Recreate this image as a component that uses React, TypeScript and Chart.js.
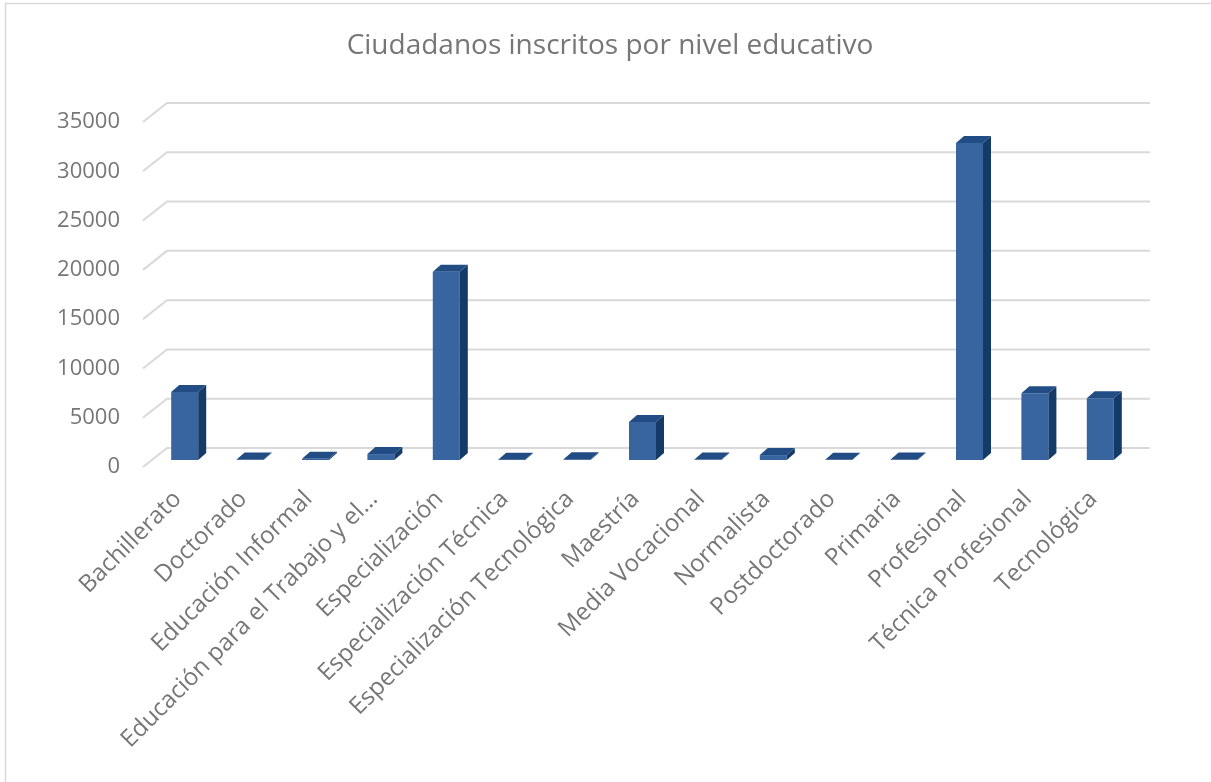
import React, { useEffect, useRef } from 'react';
import { Chart, registerables } from 'chart.js';

Chart.register(...registerables);

const chartTitle = 'Ciudadanos inscritos por nivel educativo';

const categories = [
  'Bachillerato',
  'Doctorado',
  'Educación Informal',
  'Educación para el Trabajo y el…',
  'Especialización',
  'Especialización Técnica',
  'Especialización Tecnológica',
  'Maestría',
  'Media Vocacional',
  'Normalista',
  'Postdoctorado',
  'Primaria',
  'Profesional',
  'Técnica Profesional',
  'Tecnológica',
];

const enrolled = [6900, 60, 120, 600, 19100, 30, 80, 3850, 50, 500, 20, 60, 32150, 6770, 6260];

const yMin = 0;
const yMax = 35000;
const yStep = 5000;

const FONT = '"Open Sans", "DejaVu Sans", sans-serif';
const TEXT = '#767676';
const FRONT = '#3864A0';
const TOP = '#214C84';
const SIDE = '#143B68';
const GRID = '#D9D9D9';

const threeD = {
  id: 'threeD',
  beforeDraw(chart: any) {
    const { ctx } = chart;
    ctx.save();
    ctx.strokeStyle = '#D9D9D9';
    ctx.lineWidth = 1.5;
    ctx.beginPath();
    ctx.moveTo(5.5, 1400);
    ctx.lineTo(5.5, 3.5);
    ctx.lineTo(1400, 3.5);
    ctx.stroke();
    ctx.restore();
  },
  beforeDatasetsDraw(chart: any) {
    const { ctx, chartArea } = chart;
    const y = chart.scales.y;
    ctx.save();
    ctx.strokeStyle = GRID;
    ctx.lineWidth = 2;
    y.ticks.forEach((t: any) => {
      const py = y.getPixelForValue(t.value);
      ctx.beginPath();
      ctx.moveTo(chartArea.left - 9, py + 7);
      ctx.lineTo(chartArea.left + 15, py - 12);
      ctx.lineTo(chartArea.right + 17, py - 12);
      ctx.stroke();
    });
    ctx.restore();
  },
  afterDatasetsDraw(chart: any) {
    const { ctx } = chart;
    const meta = chart.getDatasetMeta(0);
    const dx = 8;
    const dy = -7;
    ctx.save();
    meta.data.forEach((bar: any) => {
      const { x, y, base, width } = bar.getProps(['x', 'y', 'base', 'width'], true);
      const l = x - width / 2;
      const r = x + width / 2;
      ctx.fillStyle = SIDE;
      ctx.beginPath();
      ctx.moveTo(r, y);
      ctx.lineTo(r + dx, y + dy);
      ctx.lineTo(r + dx, base + dy);
      ctx.lineTo(r, base);
      ctx.closePath();
      ctx.fill();
      ctx.fillStyle = TOP;
      ctx.beginPath();
      ctx.moveTo(l, y);
      ctx.lineTo(l + dx, y + dy);
      ctx.lineTo(r + dx, y + dy);
      ctx.lineTo(r, y);
      ctx.closePath();
      ctx.fill();
    });
    ctx.restore();
  },
};

export default function App() {
  const ref = useRef<HTMLCanvasElement | null>(null);

  useEffect(() => {
    if (!ref.current) return;
    const chart = new Chart(ref.current, {
      type: 'bar',
      data: {
        labels: categories,
        datasets: [
          {
            label: 'Ciudadanos',
            data: enrolled,
            backgroundColor: FRONT,
            borderWidth: 0,
            categoryPercentage: 1,
            barPercentage: 0.413,
          },
        ],
      },
      options: {
        animation: false,
        responsive: false,
        maintainAspectRatio: false,
        layout: { padding: 0 },
        plugins: {
          legend: { display: false },
          tooltip: { enabled: false },
          title: {
            display: true,
            text: chartTitle,
            color: TEXT,
            font: { family: FONT, size: 28, weight: 'normal', lineHeight: 1.2 },
            padding: { top: 29, bottom: 52.4 },
          },
        },
        scales: {
          x: {
            grid: { display: false, drawTicks: false },
            border: { display: false },
            ticks: {
              color: TEXT,
              font: { family: FONT, size: 24 },
              maxRotation: 45,
              minRotation: 45,
              autoSkip: false,
              padding: 25,
              labelOffset: -7,
            },
            afterFit(scale: any) {
              scale.height = 322;
            },
          },
          y: {
            min: yMin,
            max: yMax,
            grid: { display: false, drawTicks: false },
            border: { display: false },
            ticks: {
              stepSize: yStep,
              color: TEXT,
              font: { family: FONT, size: 22 },
              padding: 32,
              labelOffset: 7,
              callback: (v: any) => String(v),
            },
            afterFit(scale: any) {
              scale.width = 152;
            },
          },
          yRight: {
            position: 'right',
            display: true,
            min: yMin,
            max: yMax,
            grid: { display: false, drawTicks: false },
            border: { display: false },
            ticks: { display: false },
            afterFit(scale: any) {
              scale.width = 87;
            },
          },
        },
      },
      plugins: [threeD],
    });
    return () => chart.destroy();
  }, []);

  return (
    <div
      style={{
        position: 'absolute',
        left: 0,
        top: 0,
        width: 1211,
        height: 782,
        overflow: 'hidden',
        background: '#fff',
      }}
    >
      <canvas ref={ref} width={1220} height={782} style={{ display: 'block', width: 1220, height: 782 }} />
    </div>
  );
}
